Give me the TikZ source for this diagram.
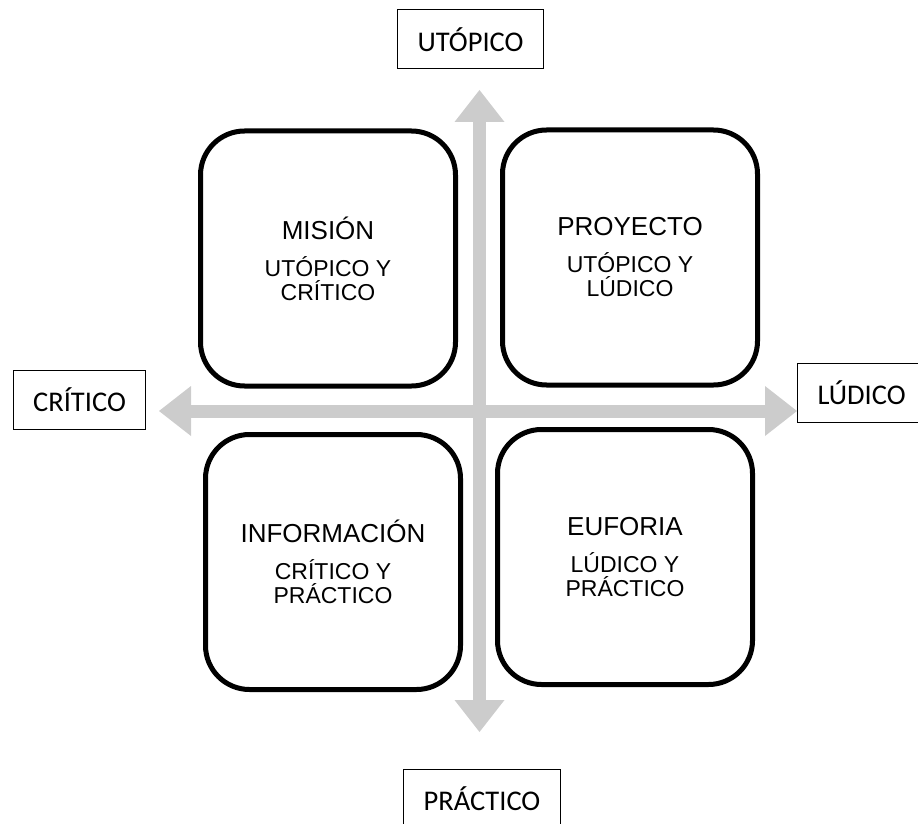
\documentclass[tikz,border=0pt]{standalone}
\usepackage{fontspec}
\setmainfont{Liberation Sans}
\newfontfamily\polefamily{Carlito}
\usetikzlibrary{arrows.meta}

\definecolor{axisgray}{RGB}{204,204,204}
\newcommand{\quadtitle}{\fontsize{26}{30}\selectfont}
\newcommand{\quadsub}{\fontsize{23}{24}\selectfont}

\begin{document}
\begin{tikzpicture}[x=1pt,y=-1pt,
  axis/.style={draw=axisgray, line width=13pt,
    {Triangle[length=32pt,width=50pt,line width=0pt]}-{Triangle[length=32pt,width=50pt,line width=0pt]}},
  quad/.style={draw, line width=5pt, rounded corners=44pt, minimum width=255pt,
    minimum height=255pt, align=center, font=\quadsub},
  pole/.style={draw, line width=1pt, inner xsep=20pt, minimum height=59pt,
    font=\polefamily\fontsize{28.5}{34}\selectfont}]
\useasboundingbox (0,0) rectangle (918,824);

% the two axes
\coordinate (west) at (159,411);
\coordinate (east) at (797,411);
\coordinate (north) at (479.5,90);
\coordinate (south) at (479.5,732);
\draw[axis] (west) -- (east);
\draw[axis] (north) -- (south);

% poles
\node[pole] (utopico) at (470.5,39.5) {UTÓPICO};
\node[pole] (critico) at (79.5,399.5) {CRÍTICO};
\node[pole, anchor=west] (ludico) at (797,392.5) {LÚDICO};
\node[pole, anchor=north] (practico) at (482,769) {PRÁCTICO};

% quadrants
\node[quad] (mision) at (328,258.5) {{\quadtitle MISIÓN}\\[13pt]UTÓPICO Y\\CRÍTICO};
\node[quad] (proyecto) at (630,257.5) {{\quadtitle PROYECTO}\\[13pt]UTÓPICO Y\\LÚDICO};
\node[quad] (informacion) at (333,562) {{\quadtitle INFORMACIÓN}\\[13pt]CRÍTICO Y\\PRÁCTICO};
\node[quad] (euforia) at (625,557) {{\quadtitle EUFORIA}\\[13pt]LÚDICO Y\\PRÁCTICO};

\end{tikzpicture}
\end{document}
